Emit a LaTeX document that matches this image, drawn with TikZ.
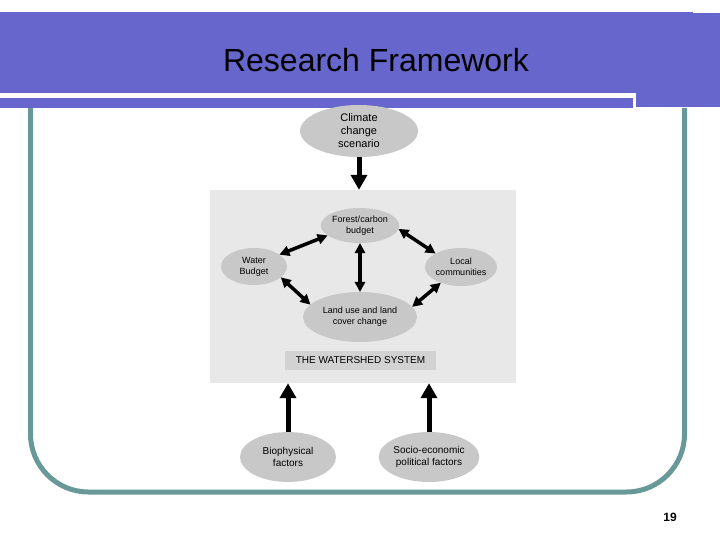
\documentclass[tikz,border=0pt]{standalone}
\usepackage{fontspec}
\setmainfont{Liberation Sans}
\usetikzlibrary{arrows.meta,shapes.geometric}
\definecolor{bandblue}{RGB}{102,102,204}
\definecolor{frameteal}{RGB}{104,152,152}
\definecolor{boxgray}{RGB}{232,232,232}
\definecolor{ovalgray}{RGB}{200,200,200}
\definecolor{labelgray}{RGB}{210,210,210}
\newcommand*{\frameL}{30.5}
\newcommand*{\frameR}{684.5}
\newcommand*{\frameT}{108}
\newcommand*{\frameB}{492}
\newcommand*{\ovalfont}{\fontsize{9bp}{11bp}\selectfont}
\tikzset{
  oval/.style={ellipse, fill=ovalgray, inner sep=0pt, outer sep=0pt, align=center},
  bigarrow/.style={line width=5bp, -{Triangle[length=15bp,width=16bp]}},
  linkarrow/.style={line width=3.5bp,
    {Triangle[length=10bp,width=10bp]}-{Triangle[length=10bp,width=10bp]}},
}

\begin{document}
\begin{tikzpicture}[x=1bp,y=-1bp]
    \useasboundingbox (0,0) rectangle (720,540);

    % slide frame and title band
    \draw [frameteal, line width=5bp, rounded corners=58bp]
      (\frameL,\frameT) -- (\frameL,\frameB) -- (\frameR,\frameB) -- (\frameR,\frameT);
    \fill [bandblue] (0,12) rectangle (693,93);
    \fill [bandblue] (636,13) rectangle (720,107);
    \fill [bandblue] (0,98) rectangle (633,108);
    \node [font=\fontsize{32bp}{38bp}\selectfont, anchor=base] (title) at (376,72) {Research Framework};

    % watershed system
    \node [fill=boxgray, minimum width=306bp, minimum height=193bp, inner sep=0pt] (wsbox) at (363,286.5) {};
    \node [fill=labelgray, minimum width=151bp, minimum height=19bp, inner sep=0pt,
      font=\fontsize{10bp}{12bp}\selectfont] (watershed) at (360.5,360.5) {THE WATERSHED SYSTEM};

    \node [oval, minimum width=118bp, minimum height=52bp, font=\fontsize{11bp}{13bp}\selectfont]
      (climate) at (359,131) {Climate\\change\\scenario};
    \node [oval, minimum width=78bp, minimum height=35bp, font=\ovalfont] (forest) at (360,225.5) {Forest/carbon\\budget};
    \node [oval, minimum width=66bp, minimum height=37bp, font=\ovalfont] (water) at (254,266.5) {Water\\Budget};
    \node [oval, minimum width=72bp, minimum height=38bp, font=\ovalfont] (local) at (461,267) {Local\\communities};
    \node [oval, minimum width=114bp, minimum height=50bp, font=\ovalfont] (landuse) at (360,317) {Land use and land\\cover change};
    \node [oval, minimum width=96bp, minimum height=50bp, font=\fontsize{10bp}{12bp}\selectfont]
      (biophys) at (288,457) {Biophysical\\factors};
    \node [oval, minimum width=94bp, minimum height=50bp, font=\fontsize{10bp}{12bp}\selectfont]
      (socio) at (429,457) {Socio-economic\\political factors};

    \draw [bigarrow] (climate.south) -- (climate.south |- wsbox.north);
    \draw [bigarrow] (biophys.north) -- (biophys.north |- wsbox.south);
    \draw [bigarrow] (socio.north) -- (socio.north |- wsbox.south);

    \draw [linkarrow] (forest.197) -- (water.25);
    \draw [linkarrow] (forest.-5) -- (local.152);
    \draw [linkarrow] (forest.south) -- (landuse.north);
    \draw [linkarrow] (water.-22) -- (landuse.166);
    \draw [linkarrow] (local.218) -- (landuse.11);

    \node [font=\bfseries\fontsize{12bp}{14bp}\selectfont, anchor=base] (pagenum) at (670,521) {19};
  \end{tikzpicture}
\end{document}
